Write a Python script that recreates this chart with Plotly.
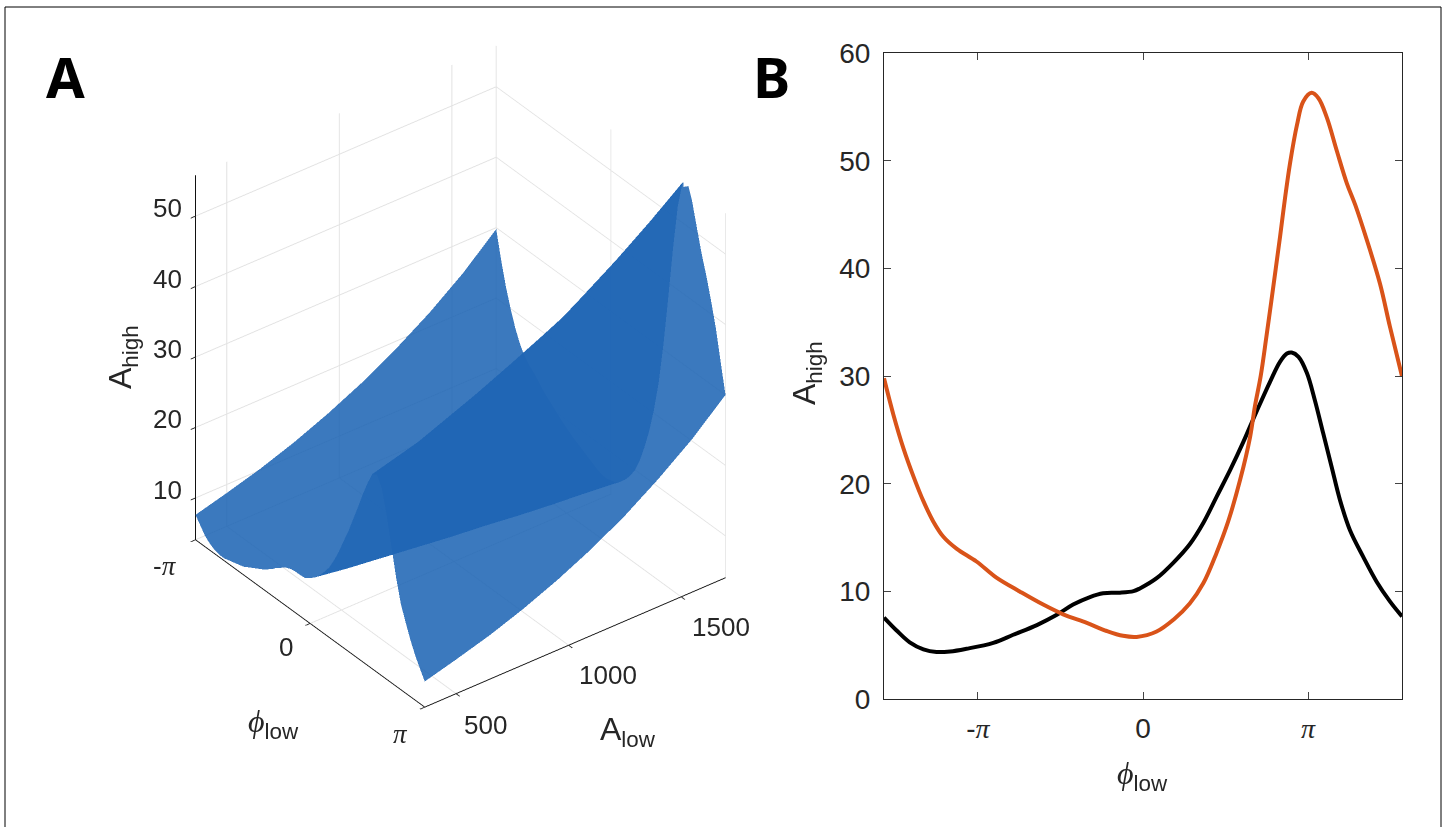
import math
import plotly.graph_objects as go

PI = math.pi

# Panel B: A_high against phi_low at the lowest and the highest A_low
black_x = [-4.93,-4.69,-4.44,-4.18,-3.93,-3.67,-3.36,-2.85,-2.47,-2.02,-1.64,-1.33,-1.01,-0.76,-0.44,-0.18,-0.06,0.26,0.58,0.89,1.15,1.40,1.66,1.91,2.16,2.42,2.61,2.74,2.83,2.96,3.12,3.27,3.43,3.59,3.75,3.94,4.19,4.45,4.70,4.93]
black = [7.6,6.4,5.3,4.65,4.4,4.45,4.7,5.25,6.0,6.9,7.85,8.8,9.5,9.85,9.9,10.05,10.3,11.25,12.7,14.4,16.4,18.8,21.3,23.9,26.7,29.5,31.35,32.1,32.2,31.8,30.3,27.8,24.7,21.6,18.5,15.7,13.25,10.9,9.1,7.7]
orange_x = [-4.93,-4.75,-4.56,-4.37,-4.18,-3.99,-3.80,-3.55,-3.17,-2.79,-2.34,-1.90,-1.52,-1.07,-0.69,-0.38,-0.12,0.26,0.58,0.89,1.15,1.40,1.62,1.85,2.04,2.13,2.24,2.35,2.48,2.61,2.70,2.80,2.93,3.05,3.21,3.34,3.50,3.69,3.88,4.04,4.26,4.51,4.70,4.93]
orange = [29.8,26.4,23.3,20.7,18.4,16.5,15.1,14.0,12.8,11.3,10.0,8.8,7.9,7.1,6.35,5.9,5.8,6.3,7.4,8.9,10.8,13.6,16.5,20.4,24.4,27.2,30.0,33.7,38.3,43.0,46.4,49.8,53.3,55.5,56.3,55.8,54.0,50.9,47.9,45.9,42.65,38.6,34.6,30.0]

# Panel A: surface grid
phi_low = [-3.142,-3.011,-2.88,-2.749,-2.618,-2.487,-2.356,-2.225,-2.094,-1.963,-1.833,-1.702,-1.571,-1.44,-1.309,-1.178,-1.047,-0.916,-0.785,-0.654,-0.524,-0.393,-0.262,-0.131,0,0.131,0.262,0.393,0.524,0.654,0.785,0.916,1.047,1.178,1.309,1.44,1.571,1.702,1.833,1.963,2.094,2.225,2.356,2.487,2.618,2.749,2.88,3.011,3.142]
a_low = [361,500,650,800,950,1100,1250,1400,1550,1697]
a_high_grid = [
 [7.6,6.6,5.6,5.0,4.6,4.4,4.4,4.6,4.8,5.0,5.2,5.6,6.0,6.4,6.8,7.3,7.8,8.5,9.0,9.5,9.8,9.9,9.9,10.0,10.5,11.1,11.9,12.9,14.0,15.5,17.2,19.2,21.1,23.3,25.5,27.8,29.9,31.7,32.1,30.7,27.5,23.5,19.5,16.2,14.1,12.1,10.4,9.0,7.7],
 [8.8,7.6,6.5,5.8,5.3,5.0,5.0,5.2,5.3,5.5,5.7,6.0,6.4,6.7,7.0,7.5,7.9,8.4,8.8,9.2,9.4,9.4,9.4,9.5,9.9,10.4,11.3,12.2,13.3,14.8,16.5,18.6,20.7,22.9,25.4,28.1,30.7,32.9,33.7,32.6,29.6,25.6,21.6,18.2,15.9,13.8,11.9,10.3,8.9],
 [10.2,8.8,7.6,6.7,6.1,5.8,5.8,5.8,6.0,6.1,6.2,6.5,6.8,7.0,7.3,7.6,7.9,8.3,8.6,8.9,9.0,8.9,8.9,8.9,9.3,9.8,10.6,11.5,12.6,14.0,15.8,17.9,20.1,22.6,25.4,28.4,31.5,34.2,35.6,34.9,32.1,28.1,24.0,20.5,18.1,15.9,13.8,12.0,10.3],
 [11.9,10.3,8.9,7.9,7.1,6.7,6.6,6.6,6.7,6.7,6.8,7.0,7.2,7.4,7.5,7.7,8.0,8.2,8.4,8.6,8.6,8.5,8.4,8.4,8.7,9.2,9.9,10.8,11.9,13.4,15.2,17.3,19.6,22.3,25.3,28.7,32.3,35.6,37.5,37.3,34.7,30.9,26.7,23.1,20.6,18.2,16.0,13.9,12.0],
 [13.9,12.0,10.4,9.2,8.3,7.7,7.5,7.5,7.5,7.5,7.4,7.5,7.6,7.7,7.8,7.9,8.0,8.1,8.3,8.3,8.2,8.1,7.9,7.9,8.2,8.6,9.3,10.2,11.3,12.7,14.5,16.7,19.2,21.9,25.2,29.0,33.2,37.1,39.6,39.9,37.6,33.9,29.8,26.1,23.4,20.9,18.5,16.1,14.0],
 [16.2,14.1,12.2,10.8,9.7,8.9,8.6,8.4,8.4,8.3,8.1,8.1,8.1,8.1,8.1,8.0,8.0,8.1,8.1,8.0,7.9,7.7,7.5,7.4,7.7,8.1,8.8,9.6,10.7,12.1,13.9,16.2,18.7,21.6,25.1,29.3,34.0,38.6,41.8,42.6,40.7,37.3,33.1,29.4,26.7,24.0,21.4,18.8,16.3],
 [18.9,16.4,14.3,12.6,11.3,10.3,9.8,9.6,9.4,9.2,8.9,8.8,8.6,8.5,8.3,8.2,8.1,8.0,7.9,7.8,7.5,7.3,7.1,7.0,7.2,7.6,8.2,9.1,10.1,11.5,13.3,15.6,18.2,21.3,25.1,29.7,34.9,40.2,44.1,45.6,44.1,40.9,36.9,33.2,30.4,27.6,24.8,21.8,19.0],
 [22.0,19.1,16.7,14.7,13.1,11.9,11.2,10.8,10.5,10.2,9.7,9.4,9.2,8.9,8.6,8.4,8.1,7.9,7.7,7.5,7.2,6.9,6.7,6.6,6.8,7.1,7.7,8.5,9.6,10.9,12.8,15.1,17.8,21.0,25.0,30.0,35.9,41.8,46.6,48.7,47.8,44.9,41.1,37.5,34.7,31.7,28.7,25.3,22.2],
 [25.6,22.3,19.5,17.2,15.2,13.8,12.8,12.2,11.8,11.3,10.7,10.2,9.8,9.3,8.9,8.5,8.2,7.8,7.6,7.3,6.9,6.6,6.3,6.2,6.3,6.6,7.3,8.0,9.0,10.4,12.2,14.6,17.3,20.7,24.9,30.3,36.8,43.5,49.2,52.1,51.8,49.3,45.7,42.3,39.5,36.5,33.3,29.4,25.8],
 [29.8,26.0,22.7,20.0,17.7,15.9,14.6,13.8,13.2,12.4,11.6,11.0,10.4,9.8,9.2,8.7,8.2,7.8,7.4,7.0,6.6,6.2,5.9,5.8,6.0,6.2,6.8,7.6,8.6,9.9,11.7,14.1,16.9,20.4,24.8,30.7,37.8,45.3,51.8,55.7,56.3,54.1,50.8,47.6,44.9,41.8,38.4,34.1,30.0],
]
z_ticks = [10,20,30,40,50]
a_ticks = [500,1000,1500]

W, H = 1443, 827
tick = "#262626"
c = "rgb(32,102,181)"
LS = "Liberation Sans"
pi_s = "<span style='font-family:Liberation Serif;font-style:italic;font-size:%dpx'>π</span>"
phi_t = "<span style='font-family:Liberation Serif;font-style:italic'>ϕ</span>"
zfloor = 4.06

def label(x, y, z, text, dx, dy):
    return dict(x=x, y=y, z=z, text=text, showarrow=False, xshift=dx, yshift=dy, xanchor="center", yanchor="middle",
                font=dict(family=LS, size=26, color=tick))

pa = pi_s % 27
ann3 = [label(-PI, 361, v, str(v), -28, 8) for v in z_ticks]
ann3 += [label(-PI, 361, zfloor, "-" + pa, -30, -26), label(0, 361, zfloor, "0", -24, -24), label(PI, 361, zfloor, pa, -24, -27)]
ann3 += [label(PI, 500, zfloor, "500", 29, -31), label(PI, 1000, zfloor, "1000", 39, -30), label(PI, 1500, zfloor, "1500", 40, -30)]

def title(x, y, text, angle=0):
    return dict(xref="paper", yref="paper", x=x/W, y=1-y/H, text=text, textangle=angle, showarrow=False,
                xanchor="center", yanchor="middle", font=dict(family=LS, size=32, color=tick))
def sub(s):
    return "<sub>" + s + "</sub>"

fig = go.Figure()
fig.add_trace(go.Surface(x=phi_low, y=a_low, z=a_high_grid, colorscale=[[0, c], [1, c]], showscale=False, opacity=0.88,
    lighting=dict(ambient=1, diffuse=0, specular=0, fresnel=0, roughness=1), hoverinfo="skip"))
fig.add_trace(go.Scatter(x=black_x, y=black, mode="lines", line=dict(color="#000000", width=4, shape="spline", smoothing=1), xaxis="x", yaxis="y"))
fig.add_trace(go.Scatter(x=orange_x, y=orange, mode="lines", line=dict(color="#D95319", width=4, shape="spline", smoothing=1), xaxis="x", yaxis="y"))
grid = "#e2e2e2"
ax3 = dict(showbackground=False, showgrid=True, gridcolor=grid, gridwidth=2, showline=True, linecolor="#111111", linewidth=2, zeroline=False,
           ticks="outside", ticklen=6, tickcolor=tick, tickwidth=2, showticklabels=False, title=dict(text=""), showspikes=False)
ER = 2.07
fig.update_layout(width=W, height=H, autosize=False, margin=dict(l=0, r=0, t=0, b=0), showlegend=False, paper_bgcolor="white", plot_bgcolor="white",
 scene=dict(domain=dict(x=[0, 921/W], y=[1-753/H, 1]),
   xaxis=dict(ax3, range=[-PI, PI], tickvals=[-PI, 0, PI]),
   yaxis=dict(ax3, range=[361, 1697], tickvals=a_ticks),
   zaxis=dict(ax3, range=[zfloor, 55.8], tickvals=z_ticks),
   aspectmode="manual", aspectratio=dict(x=1, y=1.007, z=1.169),
   camera=dict(projection=dict(type="orthographic"), eye=dict(x=.6565*ER, y=-.504*ER, z=.56*ER), up=dict(x=0, y=0, z=1), center=dict(x=0, y=0, z=0)),
   annotations=ann3),
 xaxis=dict(domain=[884/W, 1402/W], range=[-4.93, 4.93], tickvals=[-PI, 0, PI], ticktext=["-" + pi_s % 28, "0", pi_s % 28], ticks="inside", ticklen=7, mirror="allticks", showline=True, linecolor=tick, linewidth=1, showgrid=False, zeroline=False, automargin=False, ticklabelstandoff=4, tickfont=dict(family=LS, size=28, color=tick)),
 yaxis=dict(domain=[1-699.4/H, 1-53/H], range=[0, 60], tickvals=[0, 10, 20, 30, 40, 50, 60], ticks="inside", ticklen=7, mirror="allticks", showline=True, linecolor=tick, linewidth=1, showgrid=False, zeroline=False, automargin=False, ticklabelstandoff=7, tickfont=dict(family=LS, size=28, color=tick)),
 shapes=[dict(type="rect", xref="paper", yref="paper", x0=5/W, x1=1441/W, y0=-0.02, y1=1-7/H, line=dict(color="#000", width=1))],
 annotations=[dict(xref="paper", yref="paper", x=44/W, y=1-76/H, text="<b>A</b>", showarrow=False, xanchor="left", yanchor="middle", font=dict(family="Noto Sans", size=56, color="#000")),
              dict(xref="paper", yref="paper", x=751/W, y=1-76/H, text="<b>B</b>", showarrow=False, xanchor="left", yanchor="middle", font=dict(family="Noto Sans", size=56, color="#000")),
              title(628, 731, "A" + sub("low")), title(273, 723, phi_t + sub("low")), title(122, 357, "A" + sub("high"), -90),
              title(806, 373, "A" + sub("high"), -90), title(1142, 775, phi_t + sub("low"))])
fig.write_html("out.html", config=dict(displayModeBar=False), post_script="document.body.style.margin='0';document.body.style.overflow='hidden';")
